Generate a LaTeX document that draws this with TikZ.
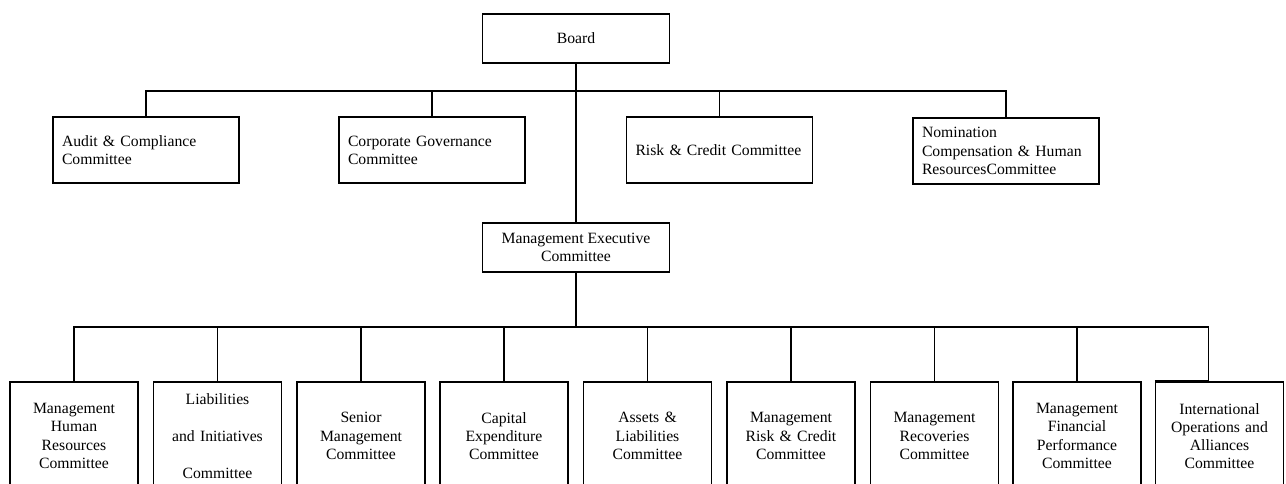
\documentclass[tikz,border=0pt]{standalone}
\usepackage{fontspec}
\setmainfont{Liberation Serif}
\usepackage{xcolor}
\hyphenpenalty=10000
\exhyphenpenalty=10000

\begin{document}
\begin{tikzpicture}[x=1pt,y=-1pt,
	box/.style={draw,line width=1.5pt,inner sep=0pt,font=\fontsize{15.7}{18.2}\selectfont},
	headbox/.style={box,minimum width=187pt,minimum height=49pt,align=center},
	topbox/.style={box,minimum width=186pt,minimum height=66pt,text width=168pt,align=left},
	subbox/.style={box,minimum width=128pt,minimum height=108pt,text width=122pt,align=center},
	link/.style={line width=1.5pt}]
		\clip(0,0)rectangle(1286,483);
		\node[headbox](board)at(576,38.5){Board};
		\node[headbox](mec)at(576,247.5){Management Executive\\Committee};
		\node[topbox](audit)at(146,150){Audit \& Compliance\\Committee};
		\node[topbox](corpgov)at(432,150){Corporate Governance\\Committee};
		\node[topbox](riskcr)at(719.5,150){Risk \& Credit Committee};
		\node[topbox](nomcomp)at(1006,151){Nomination\\Compensation \& Human\\ResourcesCommittee};
		\node[subbox](mhr)at(74,436){Management\\Human\\Resources\\Committee};
		\node[subbox](liab)at(217.5,436){Liabilities\\[18.5pt]and Initiatives\\[18.5pt]Committee};
		\node[subbox](senior)at(361,436){Senior\\Management\\Committee};
		\node[subbox](capex)at(504,436){Capital\\Expenditure\\Committee};
		\node[subbox](alco)at(647.5,436){Assets \&\\Liabilities\\Committee};
		\node[subbox](mrisk)at(791,436){Management\\Risk \& Credit\\Committee};
		\node[subbox](recov)at(934.5,436){Management\\Recoveries\\Committee};
		\node[subbox](mfin)at(1077,436){Management\\Financial\\Performance\\Committee};
		\node[subbox](intl)at(1219.5,436){International\\Operations and\\Alliances\\Committee};
		\coordinate(tbus)at(576,91);
		\coordinate(bbus)at(576,327);
		\coordinate(intlin)at(1208.5,327);
		\draw[link](board)--(mec);
		\draw[link](audit.north)--(audit.north|-tbus)--(nomcomp.north|-tbus)--(nomcomp.north);
		\draw[link](corpgov.north)--(corpgov.north|-tbus);
		\draw[link](riskcr.north)--(riskcr.north|-tbus);
		\draw[line width=2.8pt](mec)--(bbus);
		\draw[link](mhr.north)--(mhr.north|-bbus)--(intlin)--(intlin|-intl.north);
		\draw[link](liab.north)--(liab.north|-bbus);
		\draw[link](senior.north)--(senior.north|-bbus);
		\draw[link](capex.north)--(capex.north|-bbus);
		\draw[link](alco.north)--(alco.north|-bbus);
		\draw[link](mrisk.north)--(mrisk.north|-bbus);
		\draw[link](recov.north)--(recov.north|-bbus);
		\draw[link](mfin.north)--(mfin.north|-bbus);
		\draw[line width=2.8pt](intl.north west)--(intlin|-intl.north);
		\end{tikzpicture}
\end{document}
